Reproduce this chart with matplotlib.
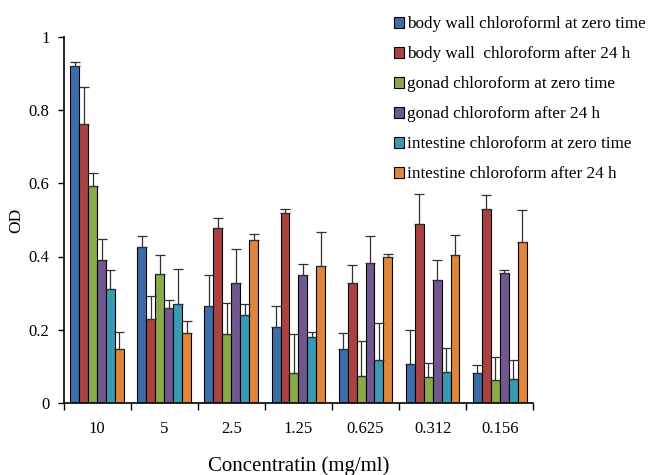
import numpy as np
import matplotlib.pyplot as plt

plt.rcParams['font.family'] = ['Liberation Serif', 'DejaVu Serif']

concentrations = ['10', '5', '2.5', '1.25', '0.625', '0.312', '0.156']
series_names = ['body wall chloroforml at zero time',
                'body wall  chloroform after 24 h',
                'gonad chloroform at zero time',
                'gonad chloroform after 24 h',
                'intestine chloroform at zero time',
                'intestine chloroform after 24 h']

bw_zero = [0.920, 0.425, 0.266, 0.208, 0.148, 0.107, 0.082]
bw_24 = [0.763, 0.228, 0.479, 0.520, 0.328, 0.490, 0.531]
gon_zero = [0.594, 0.353, 0.188, 0.082, 0.073, 0.070, 0.062]
gon_24 = [0.390, 0.260, 0.328, 0.350, 0.381, 0.337, 0.356]
int_zero = [0.311, 0.271, 0.241, 0.179, 0.118, 0.085, 0.066]
int_24 = [0.146, 0.191, 0.445, 0.375, 0.398, 0.403, 0.440]

bw_zero_err = [0.012, 0.031, 0.084, 0.057, 0.043, 0.091, 0.020]
bw_24_err = [0.100, 0.063, 0.027, 0.011, 0.050, 0.081, 0.038]
gon_zero_err = [0.033, 0.050, 0.086, 0.107, 0.095, 0.040, 0.062]
gon_24_err = [0.057, 0.020, 0.092, 0.030, 0.075, 0.053, 0.008]
int_zero_err = [0.053, 0.096, 0.029, 0.015, 0.101, 0.066, 0.052]
int_24_err = [0.048, 0.033, 0.017, 0.092, 0.008, 0.056, 0.086]

values = [bw_zero, bw_24, gon_zero, gon_24, int_zero, int_24]
errors = [bw_zero_err, bw_24_err, gon_zero_err, gon_24_err, int_zero_err, int_24_err]
colors = ['#3D6DA8', '#AA4241', '#8AAA4A', '#71578F', '#3A9AB2', '#E0863A']

fig = plt.figure(figsize=(6.48, 4.75), dpi=100)
ax = fig.add_axes([0.098, 0.152, 0.725, 0.77])

x = np.arange(len(concentrations))
w = 0.8 / 6
for i in range(6):
    pos = x - 0.4 + w * (i + 0.5)
    ax.bar(pos, values[i], width=w, color=colors[i], edgecolor='black',
           linewidth=0.8, label=series_names[i])
    ax.errorbar(pos, values[i], yerr=[np.zeros(7), errors[i]], fmt='none',
                ecolor='#303030', elinewidth=0.9, capsize=3.5, capthick=0.9)

ax.set_xlim(-0.5, 6.5)
ax.set_ylim(0, 1)
ax.set_yticks([0, 0.2, 0.4, 0.6, 0.8, 1])
ax.set_yticklabels(['0', '0.2', '0.4', '0.6', '0.8', '1'])
ax.set_xticks(x)
ax.set_xticklabels(concentrations)
ax.set_xticks(np.arange(-0.5, 7, 1), minor=True)
ax.tick_params(axis='x', which='major', length=0, pad=13, labelsize=12)
ax.tick_params(axis='x', which='minor', length=5, width=1, direction='out')
ax.tick_params(axis='y', length=4, width=1, direction='out', labelsize=12, pad=6)
for s in ['top', 'right']:
    ax.spines[s].set_visible(False)
for s in ['left', 'bottom']:
    ax.spines[s].set_linewidth(1.2)

ax.set_ylabel('OD', fontsize=12.5, labelpad=3)
ax.set_xlabel('Concentratin (mg/ml)', fontsize=15, labelpad=14)

fig.legend(loc='upper left', bbox_to_anchor=(0.589, 0.991), frameon=False,
           fontsize=12.3, handlelength=0.6, handleheight=0.6, handletextpad=0.2,
           labelspacing=0.82, borderpad=0.2)

plt.savefig('out.png', dpi=100)
